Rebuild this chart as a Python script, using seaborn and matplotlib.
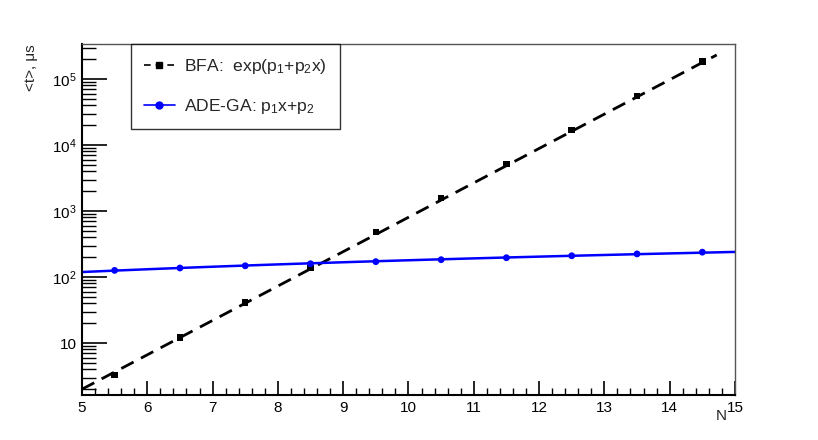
import numpy as np
import pandas as pd
import matplotlib
matplotlib.use("Agg")
import matplotlib.pyplot as plt
import seaborn as sns
from matplotlib.lines import Line2D
from matplotlib.ticker import FixedLocator, FixedFormatter, MultipleLocator, LogLocator, NullFormatter

# measured points
n_vals = [5.5, 6.5, 7.5, 8.5, 9.5, 10.5, 11.5, 12.5, 13.5, 14.5]
bfa_t = [3.3, 12.2, 41, 137, 480, 1580, 5200, 17000, 55000, 185000]
ade_t = [126, 137, 148, 159, 171, 183, 196, 210, 224, 238]

# fit parameters
bfa_p1, bfa_p2 = -5.31, 1.20   # exp(p1 + p2*x)
ade_p1, ade_p2 = 12.1, 58.5    # p1*x + p2
bfa_range = [5.0, 14.72]
ade_range = [5.0, 15.0]

ytick_vals = [10, 1e2, 1e3, 1e4, 1e5]
ytick_labels = ["10", "$10^2$", "$10^3$", "$10^4$", "$10^5$"]

sns.set_style("ticks")
plt.rcParams["font.family"] = ["Liberation Sans", "DejaVu Sans"]
plt.rcParams["mathtext.fontset"] = "custom"
plt.rcParams["mathtext.rm"] = "Liberation Sans"
plt.rcParams["mathtext.it"] = "Liberation Sans"

fig = plt.figure(figsize=(8.18, 4.40), dpi=100)
ax = fig.add_axes([0.1002, 0.1023, 0.7983, 0.7977])

xb = np.linspace(bfa_range[0], bfa_range[1], 200)
xa = np.linspace(ade_range[0], ade_range[1], 50)
fit_b = pd.DataFrame({"N": xb, "t": np.exp(bfa_p1 + bfa_p2 * xb)})
fit_a = pd.DataFrame({"N": xa, "t": ade_p1 * xa + ade_p2})
pts = pd.DataFrame({"N": n_vals, "bfa": bfa_t, "ade": ade_t})

sns.lineplot(data=fit_b, x="N", y="t", ax=ax, color="black", lw=2.0,
             dashes=False, linestyle=(0, (5, 3)))
sns.lineplot(data=fit_a, x="N", y="t", ax=ax, color="#0000ff", lw=1.8)
sns.scatterplot(data=pts, x="N", y="bfa", ax=ax, marker="s", s=22,
                color="black", edgecolor="none", zorder=3)
sns.scatterplot(data=pts, x="N", y="ade", ax=ax, marker="o", s=24,
                color="#0000ff", edgecolor="none", zorder=3)

ax.set_yscale("log")
ax.set_xlim(5, 15)
ax.set_ylim(1.63, 3.4e5)

ax.xaxis.set_major_locator(MultipleLocator(1))
ax.xaxis.set_minor_locator(MultipleLocator(0.2))
ax.yaxis.set_major_locator(FixedLocator(ytick_vals))
ax.yaxis.set_major_formatter(FixedFormatter(ytick_labels))
ax.yaxis.set_minor_locator(LogLocator(base=10, subs=np.arange(2, 10)))
ax.yaxis.set_minor_formatter(NullFormatter())

ax.tick_params(axis="both", which="both", direction="in", top=False, right=False,
               colors="black", labelsize=11)
ax.tick_params(axis="x", which="major", length=10, width=1.2, pad=4)
ax.tick_params(axis="x", which="minor", length=5, width=1.0)
ax.tick_params(axis="y", which="major", length=18, width=1.2, pad=4)
ax.tick_params(axis="y", which="minor", length=10, width=1.0)

for side in ["left", "bottom"]:
    ax.spines[side].set_linewidth(1.5)
    ax.spines[side].set_color("black")
for side in ["top", "right"]:
    ax.spines[side].set_visible(True)
    ax.spines[side].set_linewidth(1.0)
    ax.spines[side].set_color("#555555")

ax.set_xlabel("N", fontsize=11, ha="right", va="top")
ax.xaxis.set_label_coords(0.987, -0.04)
ax.set_ylabel("<t>, μs", fontsize=11, ha="right", va="bottom")
ax.yaxis.set_label_coords(-0.068, 1.0)

handles = [
    Line2D([], [], color="black", lw=1.2, linestyle=(0, (4, 3)), marker="s", markersize=5),
    Line2D([], [], color="#0000ff", lw=1.2, marker="o", markersize=5),
]
labels = ["BFA:  exp(p$_1$+p$_2$x)", "ADE-GA: p$_1$x+p$_2$"]
leg = ax.legend(handles, labels, loc="upper left", bbox_to_anchor=(0.075, 1.0),
                fontsize=12.6, frameon=True, fancybox=False, handlelength=1.75,
                borderpad=0.75, labelspacing=1.2, handletextpad=0.55, borderaxespad=0)
leg.get_frame().set_edgecolor("black")
leg.get_frame().set_linewidth(1.0)

fig.savefig("out.png", dpi=100)
